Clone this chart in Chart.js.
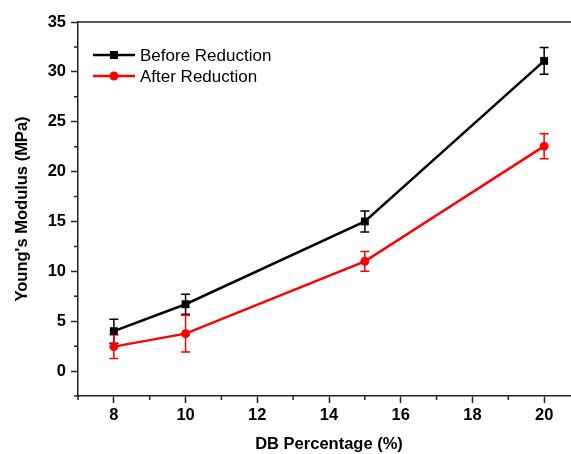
<!DOCTYPE html>
<html>
<head>
<meta charset="utf-8">
<script src="https://cdn.jsdelivr.net/npm/chart.js@4"></script>
<style>
  html, body { margin: 0; padding: 0; background: #fff; overflow: hidden; }
  #wrap { width: 571px; height: 454px; overflow: hidden; }
</style>
</head>
<body>
<div id="wrap"><canvas id="chart" width="590" height="454"></canvas></div>
<script>
// === データ ===
const dbPercent = [8, 10, 15, 20];
const beforeModulus = [4.0, 6.7, 15.0, 31.1];
const beforeErr = [1.2, 1.0, 1.05, 1.35];
const afterModulus = [2.45, 3.75, 11.0, 22.55];
const afterErr = [1.2, 1.85, 1.0, 1.25];

const xTicks = [8, 10, 12, 14, 16, 18, 20];
const xMinorTicks = [7, 9, 11, 13, 15, 17, 19, 21];
const yTicks = [0, 5, 10, 15, 20, 25, 30, 35];
const yMinorTicks = [-2.5, 2.5, 7.5, 12.5, 17.5, 22.5, 27.5, 32.5];

const FONT = "'Liberation Sans', Arial, sans-serif";
const AXIS_COLOR = '#222';

const toPoints = (ys) => dbPercent.map((x, i) => ({ x: x, y: ys[i] }));

// === エラーバー ===
const errorBarPlugin = {
    id: 'errorBars',
    beforeDatasetsDraw(chart) {
        const { ctx, scales: { x, y } } = chart;
        const errs = [beforeErr, afterErr];
        ctx.save();
        chart.data.datasets.forEach((ds, di) => {
            ctx.strokeStyle = ds.borderColor;
            ctx.lineWidth = 1.5;
            ds.data.forEach((p, i) => {
                const px = x.getPixelForValue(p.x);
                const top = y.getPixelForValue(p.y + errs[di][i]);
                const bot = y.getPixelForValue(p.y - errs[di][i]);
                ctx.beginPath();
                ctx.moveTo(px, top); ctx.lineTo(px, bot);
                ctx.moveTo(px - 4.5, top); ctx.lineTo(px + 4.5, top);
                ctx.moveTo(px - 4.5, bot); ctx.lineTo(px + 4.5, bot);
                ctx.stroke();
            });
        });
        ctx.restore();
    },
};

// === 枠線・補助目盛・凡例 ===
const framePlugin = {
    id: 'frame',
    afterDraw(chart) {
        const { ctx, chartArea: a, scales: { x, y } } = chart;
        ctx.save();
        ctx.strokeStyle = AXIS_COLOR;
        ctx.lineWidth = 1.5;
        ctx.beginPath();
        ctx.moveTo(a.left, a.top); ctx.lineTo(a.right, a.top);
        ctx.moveTo(a.right, a.top); ctx.lineTo(a.right, a.bottom);
        xMinorTicks.forEach(v => {
            const px = x.getPixelForValue(v);
            ctx.moveTo(px, a.bottom); ctx.lineTo(px, a.bottom + 4);
        });
        yMinorTicks.forEach(v => {
            const py = y.getPixelForValue(v);
            ctx.moveTo(a.left, py); ctx.lineTo(a.left - 4, py);
        });
        ctx.stroke();

        // 凡例
        const items = [
            { label: 'Before Reduction', ds: chart.data.datasets[0], y: 55 },
            { label: 'After Reduction', ds: chart.data.datasets[1], y: 76 },
        ];
        items.forEach(it => {
            ctx.strokeStyle = it.ds.borderColor;
            ctx.lineWidth = 2.5;
            ctx.beginPath();
            ctx.moveTo(93, it.y); ctx.lineTo(135, it.y);
            ctx.stroke();
            ctx.fillStyle = it.ds.borderColor;
            if (it.ds.pointStyle === 'rect') {
                ctx.fillRect(114 - 4, it.y - 4, 8, 8);
            } else {
                ctx.beginPath();
                ctx.arc(114, it.y, 4.5, 0, Math.PI * 2);
                ctx.fill();
            }
            ctx.fillStyle = '#000';
            ctx.font = `17px ${FONT}`;
            ctx.textBaseline = 'middle';
            ctx.textAlign = 'left';
            ctx.fillText(it.label, 140, it.y + 1);
        });
        ctx.restore();
    },
};

const ctx = document.getElementById('chart').getContext('2d');
new Chart(ctx, {
    type: 'line',
    data: {
        datasets: [
            {
                label: 'Before Reduction',
                data: toPoints(beforeModulus),
                borderColor: '#000000',
                backgroundColor: '#000000',
                borderWidth: 2.5,
                pointStyle: 'rect',
                pointRadius: 5.6,
                pointBorderWidth: 0,
                tension: 0,
            },
            {
                label: 'After Reduction',
                data: toPoints(afterModulus),
                borderColor: '#ff0000',
                backgroundColor: '#ff0000',
                borderWidth: 2.5,
                pointStyle: 'circle',
                pointRadius: 4.5,
                pointBorderWidth: 0,
                tension: 0,
            },
        ],
    },
    options: {
        responsive: false,
        animation: false,
        devicePixelRatio: 1,
        layout: { padding: { top: 22, right: 10, left: 0, bottom: 0 } },
        plugins: {
            legend: { display: false },
            tooltip: { enabled: false },
        },
        scales: {
            x: {
                type: 'linear',
                min: 7,
                max: 21,
                afterBuildTicks: s => { s.ticks = xTicks.map(v => ({ value: v })); },
                afterFit: s => { s.height = 58; },
                grid: { drawOnChartArea: false, drawTicks: true, tickLength: 7, tickColor: AXIS_COLOR, tickWidth: 1.5 },
                border: { display: true, color: AXIS_COLOR, width: 1.5 },
                ticks: { color: '#000', padding: 3, font: { family: FONT, size: 16.5, weight: 'bold' } },
                title: {
                    display: true,
                    text: 'DB Percentage (%)',
                    color: '#000',
                    padding: { top: 0, bottom: 0 },
                    font: { family: FONT, size: 16.5, weight: 'bold' },
                },
            },
            y: {
                type: 'linear',
                min: -2.5,
                max: 35,
                afterBuildTicks: s => { s.ticks = yTicks.map(v => ({ value: v })); },
                afterFit: s => { s.width = 78; },
                grid: { drawOnChartArea: false, drawTicks: true, tickLength: 7, tickColor: AXIS_COLOR, tickWidth: 1.5 },
                border: { display: true, color: AXIS_COLOR, width: 1.5 },
                ticks: { color: '#000', padding: 5, font: { family: FONT, size: 16.5, weight: 'bold' } },
                title: {
                    display: true,
                    text: "Young's Modulus (MPa)",
                    color: '#000',
                    padding: { top: 13, bottom: 0 },
                    font: { family: FONT, size: 16.5, weight: 'bold' },
                },
            },
        },
    },
    plugins: [errorBarPlugin, framePlugin],
});
</script>
</body>
</html>
